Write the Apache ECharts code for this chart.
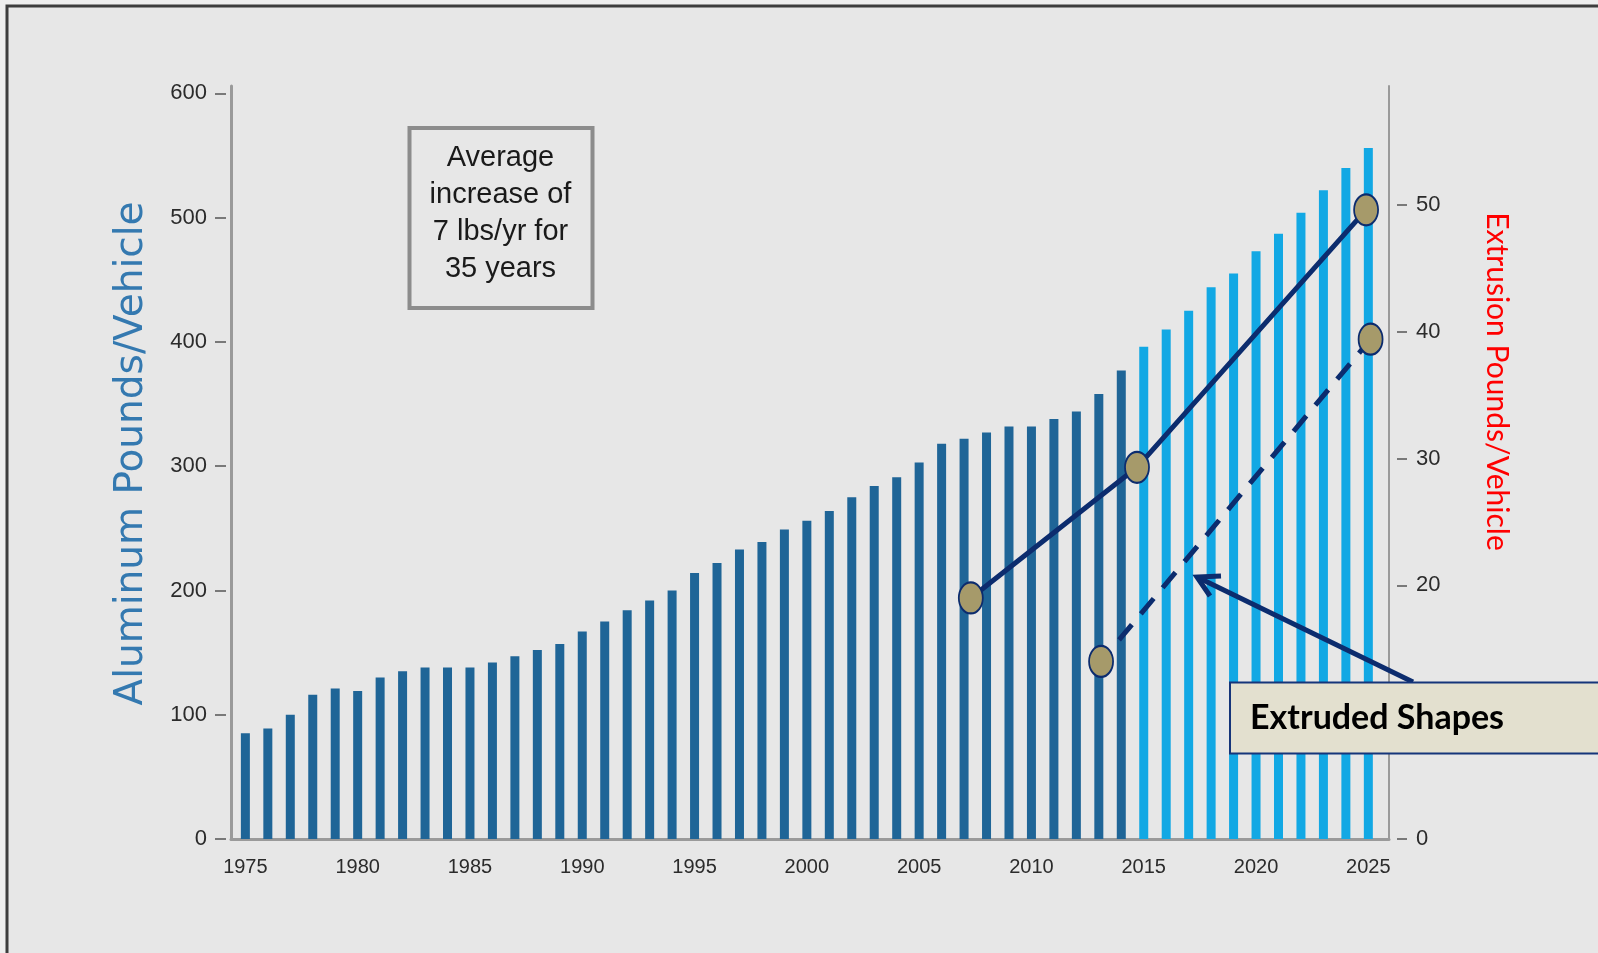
<!DOCTYPE html>
<html>
<head>
<meta charset="utf-8">
<script src="https://cdn.jsdelivr.net/npm/echarts@6/dist/echarts.min.js"></script>
<style>
  html, body { margin: 0; padding: 0; background: #eeeeee; }
  #main { width: 1598px; height: 953px; }
</style>
</head>
<body>
<div id="main"></div>
<script>
// aluminum content per vehicle
var years = [1975, 1976, 1977, 1978, 1979, 1980, 1981, 1982, 1983, 1984,
    1985, 1986, 1987, 1988, 1989, 1990, 1991, 1992, 1993, 1994,
    1995, 1996, 1997, 1998, 1999, 2000, 2001, 2002, 2003, 2004,
    2005, 2006, 2007, 2008, 2009, 2010, 2011, 2012, 2013, 2014,
    2015, 2016, 2017, 2018, 2019, 2020, 2021, 2022, 2023, 2024, 2025];
var aluminum = [85, 89, 100, 116, 121, 119, 130, 135, 138, 138,
    138, 142, 147, 152, 157, 167, 175, 184, 192, 200,
    214, 222, 233, 239, 249, 256, 264, 275, 284, 291,
    303, 318, 322, 327, 332, 332, 338, 344, 358, 377,
    396, 410, 425, 444, 455, 473, 487, 504, 522, 540, 556];
var projectionStart = 2015;

// extrusion pounds/vehicle (right axis)
var extrusionSolid = [[2007.3, 19], [2014.7, 29.3], [2024.9, 49.6]];
var extrusionDashed = [[2013.1, 14], [2025.1, 39.4]];

var leftTicks = [0, 100, 200, 300, 400, 500, 600];
var rightTicks = [0, 20, 30, 40, 50];
var yearTicks = [1975, 1980, 1985, 1990, 1995, 2000, 2005, 2010, 2015, 2020, 2025];

var pastBars = [], futureBars = [];
years.forEach(function (y, i) {
    if (y < projectionStart) pastBars.push([y, aluminum[i]]);
    else futureBars.push([y, aluminum[i]]);
});

var navy = '#0c2c6e';
var labelFont = 'Liberation Sans, Arial, sans-serif';

var myChart = echarts.init(document.getElementById('main'));

var option = {
    animation: false,
    grid: { left: 231, right: 209, top: 86, bottom: 114 },
    xAxis: {
        type: 'value',
        min: 1974.36,
        max: 2025.92,
        axisLine: { show: true, onZero: false, lineStyle: { color: '#9a9a9a', width: 3 } },
        axisTick: { show: false },
        splitLine: { show: false },
        axisLabel: {
            customValues: yearTicks,
            color: '#2b2b2b',
            fontSize: 20,
            fontFamily: labelFont,
            margin: 18,
            formatter: function (v) { return String(v); }
        }
    },
    yAxis: [{
        type: 'value',
        position: 'left',
        min: 0,
        max: 605.9,
        name: 'Aluminum Pounds/Vehicle',
        nameLocation: 'middle',
        nameGap: 80,
        nameTextStyle: { color: '#3479b0', fontSize: 39, fontFamily: 'DejaVu Sans', padding: [0, 0, 0, 18] },
        axisLine: { show: true, lineStyle: { color: '#9a9a9a', width: 3 } },
        axisTick: {
            show: true, customValues: leftTicks, length: 16,
            lineStyle: { color: '#555', width: 1.5, type: [0, 5, 11, 50] }
        },
        axisLabel: { customValues: leftTicks, margin: 24, fontSize: 22, color: '#2b2b2b', fontFamily: labelFont },
        splitLine: { show: false }
    }, {
        type: 'value',
        position: 'right',
        min: 0,
        max: 59.36,
        axisLine: { show: true, lineStyle: { color: '#9a9a9a', width: 2 } },
        axisTick: {
            show: true, customValues: rightTicks, length: 18,
            lineStyle: { color: '#555', width: 1.5, type: [0, 8, 10, 50] }
        },
        axisLabel: { customValues: rightTicks, margin: 27, fontSize: 22, color: '#2b2b2b', fontFamily: labelFont },
        splitLine: { show: false }
    }],
    series: [{
        name: 'history',
        type: 'bar',
        stack: 'al',
        data: pastBars,
        barWidth: 9,
        itemStyle: { color: '#1f6597' }
    }, {
        name: 'projected',
        type: 'bar',
        stack: 'al',
        data: futureBars,
        barWidth: 9,
        itemStyle: { color: '#12a8e4' }
    }, {
        name: 'extrusion',
        type: 'line',
        yAxisIndex: 1,
        data: extrusionSolid,
        z: 5,
        symbol: 'circle',
        symbolSize: [24, 31],
        lineStyle: { color: navy, width: 5 },
        itemStyle: { color: '#a69a6a', borderColor: navy, borderWidth: 2 }
    }, {
        name: 'extrusion2',
        type: 'line',
        yAxisIndex: 1,
        data: extrusionDashed,
        z: 5,
        symbol: 'circle',
        symbolSize: [24, 31],
        lineStyle: { color: navy, width: 5, type: [20, 14], dashOffset: 6 },
        itemStyle: { color: '#a69a6a', borderColor: navy, borderWidth: 2 }
    }],
    graphic: [{
        type: 'rect',
        z: -10,
        shape: { x: 7, y: 6, width: 1640, height: 1000 },
        style: { fill: '#e7e7e7', stroke: '#3d3d3d', lineWidth: 3 }
    }, {
        type: 'rect',
        z: 10,
        shape: { x: 409.5, y: 128, width: 183, height: 180 },
        style: { fill: 'none', stroke: '#8c8c8c', lineWidth: 4 }
    }, {
        type: 'text',
        z: 10,
        x: 500.5,
        y: 213,
        style: {
            text: 'Average\nincrease of\n7 lbs/yr for\n35 years',
            fontSize: 29,
            fontFamily: labelFont,
            lineHeight: 37,
            fill: '#1a1a1a',
            align: 'center',
            verticalAlign: 'middle'
        }
    }, {
        type: 'text',
        z: 10,
        x: 1497,
        y: 381.5,
        rotation: -Math.PI / 2,
        style: {
            text: 'Extrusion Pounds/Vehicle',
            fontSize: 30,
            fontFamily: 'Lato',
            fill: '#ff0000',
            align: 'center',
            verticalAlign: 'middle'
        }
    }, {
        type: 'polyline',
        z: 15,
        shape: { points: [[1413, 682], [1199, 578]] },
        style: { stroke: navy, lineWidth: 5, fill: null }
    }, {
        type: 'polyline',
        z: 15,
        shape: { points: [[1221, 576], [1197, 577], [1210, 596]] },
        style: { stroke: navy, lineWidth: 5, fill: null, lineJoin: 'miter' }
    }, {
        type: 'rect',
        z: 20,
        shape: { x: 1230, y: 682.5, width: 400, height: 71 },
        style: { fill: '#e3e0cf', stroke: '#15357a', lineWidth: 2 }
    }, {
        type: 'text',
        z: 21,
        x: 1250,
        y: 718,
        style: {
            text: 'Extruded Shapes',
            fontSize: 34,
            fontWeight: 'bold',
            fontFamily: 'Lato',
            fill: '#000',
            align: 'left',
            verticalAlign: 'middle'
        }
    }]
};

myChart.setOption(option);
</script>
</body>
</html>
